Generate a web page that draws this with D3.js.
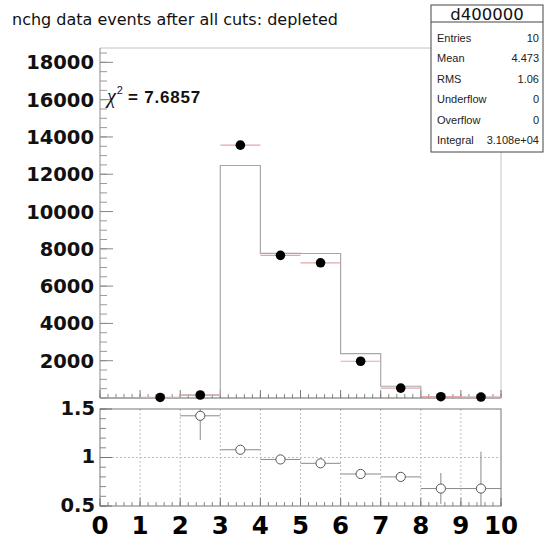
<!DOCTYPE html>
<html>
<head>
<meta charset="utf-8">
<script src="https://cdn.jsdelivr.net/npm/d3@7"></script>
<style>
  html, body { margin: 0; padding: 0; background: #fff; }
  svg { display: block; }
</style>
</head>
<body>
<svg id="chart" width="545" height="544"></svg>
<script>
// ---------------- data ----------------
const binEdges = [0, 1, 2, 3, 4, 5, 6, 7, 8, 9, 10];
const binCenters = [0.5, 1.5, 2.5, 3.5, 4.5, 5.5, 6.5, 7.5, 8.5, 9.5];
const dataValues = [null, 30, 160, 13560, 7650, 7250, 1970, 530, 70, 50];
const mcValues = [0, 0, 150, 12470, 7760, 7750, 2380, 630, 80, 30];
const ratioValues = [null, null, 1.43, 1.08, 0.98, 0.94, 0.83, 0.80, 0.68, 0.68];
const ratioErrors = [null, null, 0.25, 0.01, 0.01, 0.01, 0.02, 0.04, 0.16, 0.38];
const yTickValues = [2000, 4000, 6000, 8000, 10000, 12000, 14000, 16000, 18000];
const ratioTickValues = [0.5, 1, 1.5];
const xTickLabels = ["0", "1", "2", "3", "4", "5", "6", "7", "8", "9", "10"];
const titleText = "nchg data events after all cuts: depleted";
const chi2Text = "= 7.6857";
const statsTitle = "d400000";
const statsLabels = ["Entries", "Mean", "RMS", "Underflow", "Overflow", "Integral"];
const statsValues = ["10", "4.473", "1.06", "0", "0", "3.108e+04"];

// ---------------- layout ----------------
const svg = d3.select("#chart");
const X0 = 100, X1 = 501;
const TOPP = { top: 48, bottom: 398 };
const RAT = { top: 409, bottom: 506 };
const yMax = 18770;

const x = d3.scaleLinear().domain([0, 10]).range([X0, X1]);
const y = d3.scaleLinear().domain([0, yMax]).range([TOPP.bottom, TOPP.top]);
const yr = d3.scaleLinear().domain([0.5, 1.5]).range([RAT.bottom, RAT.top]);

svg.append("rect").attr("width", 545).attr("height", 544).attr("fill", "#fff");

// title
svg.append("text").attr("x", 12).attr("y", 25)
  .attr("font-family", "DejaVu Sans").attr("font-size", 16).attr("fill", "#111")
  .text(titleText);

// ---------------- top panel ----------------
const topG = svg.append("g");
topG.append("line").attr("x1", X0).attr("x2", X1).attr("y1", TOPP.top).attr("y2", TOPP.top).attr("stroke", "#c4c4c4");
topG.append("line").attr("x1", X1).attr("x2", X1).attr("y1", TOPP.top).attr("y2", TOPP.bottom).attr("stroke", "#c4c4c4");

const yMinor = d3.range(0, yMax, 500);
topG.selectAll("line.ymin").data(yMinor).join("line")
  .attr("x1", X0).attr("x2", X0 + 7).attr("y1", d => y(d)).attr("y2", d => y(d))
  .attr("stroke", "#999");
topG.selectAll("line.ymaj").data(yTickValues).join("line")
  .attr("x1", X0).attr("x2", X0 + 13).attr("y1", d => y(d)).attr("y2", d => y(d))
  .attr("stroke", "#888");
const xMinor = x.ticks(50);
topG.selectAll("line.xmin").data(xMinor).join("line")
  .attr("x1", d => x(d)).attr("x2", d => x(d)).attr("y1", TOPP.bottom).attr("y2", TOPP.bottom - 4)
  .attr("stroke", "#888");
topG.selectAll("line.xmaj").data(binEdges).join("line")
  .attr("x1", d => x(d)).attr("x2", d => x(d)).attr("y1", TOPP.bottom).attr("y2", TOPP.bottom - 8)
  .attr("stroke", "#777");
topG.append("line").attr("x1", X0).attr("x2", X0).attr("y1", TOPP.top).attr("y2", TOPP.bottom).attr("stroke", "#888");
topG.append("line").attr("x1", X0).attr("x2", X1).attr("y1", TOPP.bottom).attr("y2", TOPP.bottom).attr("stroke", "#666");

topG.selectAll("text.yl").data(yTickValues).join("text")
  .attr("x", 94).attr("y", d => y(d)).attr("dy", "0.36em")
  .attr("text-anchor", "end")
  .attr("font-family", "DejaVu Sans").attr("font-weight", "bold").attr("font-size", 19.5)
  .attr("fill", "#111").text(d => d);

// histogram (MC) step outline
const histPts = [[0, 0]];
mcValues.forEach((v, i) => { histPts.push([binEdges[i], v]); histPts.push([binEdges[i + 1], v]); });
histPts.push([10, 0]);
topG.append("path")
  .attr("d", d3.line().x(d => x(d[0])).y(d => y(d[1]))(histPts))
  .attr("fill", "none").attr("stroke", "#a8a8a8").attr("stroke-width", 1.2);

// data points
const dataPts = binCenters.map((c, i) => ({ c, v: dataValues[i], i })).filter(d => d.v !== null);
topG.selectAll("line.dx").data(dataPts).join("line")
  .attr("x1", d => x(binEdges[d.i])).attr("x2", d => x(binEdges[d.i + 1]))
  .attr("y1", d => y(d.v)).attr("y2", d => y(d.v))
  .attr("stroke", "#e2a8a8").attr("stroke-width", 1.2);
topG.selectAll("circle.dp").data(dataPts).join("circle")
  .attr("cx", d => x(d.c)).attr("cy", d => y(d.v)).attr("r", 4.8).attr("fill", "#000");

// chi2 text
const chi = svg.append("text").attr("x", 107).attr("y", 103).attr("fill", "#111");
chi.append("tspan").attr("font-family", "Liberation Serif").attr("font-style", "italic")
  .attr("font-size", 20).text("χ");
chi.append("tspan").attr("font-family", "Liberation Sans").attr("font-size", 11)
  .attr("dy", -9).attr("dx", 1).text("2");
chi.append("tspan").attr("font-family", "Liberation Sans").attr("font-weight", "bold")
  .attr("font-size", 17).attr("letter-spacing", 0.8).attr("dy", 9).attr("dx", 5).text(chi2Text);

// ---------------- ratio panel ----------------
const rat = svg.append("g");
rat.selectAll("line.gx").data(binEdges.slice(1, 10)).join("line")
  .attr("x1", d => x(d)).attr("x2", d => x(d)).attr("y1", RAT.top).attr("y2", RAT.bottom)
  .attr("stroke", "#bdbdbd").attr("stroke-dasharray", "2,2");
rat.append("line").attr("x1", X0).attr("x2", X1).attr("y1", yr(1)).attr("y2", yr(1))
  .attr("stroke", "#bdbdbd").attr("stroke-dasharray", "2,2");
const rMinor = d3.range(0.5, 1.5001, 0.1);
rat.selectAll("line.rmin").data(rMinor).join("line")
  .attr("x1", X0).attr("x2", X0 + 6).attr("y1", d => yr(d)).attr("y2", d => yr(d)).attr("stroke", "#888");
rat.selectAll("line.rmaj").data(ratioTickValues).join("line")
  .attr("x1", X0).attr("x2", X0 + 12).attr("y1", d => yr(d)).attr("y2", d => yr(d)).attr("stroke", "#777");
rat.selectAll("line.rxmin").data(xMinor).join("line")
  .attr("x1", d => x(d)).attr("x2", d => x(d)).attr("y1", RAT.bottom).attr("y2", RAT.bottom - 4).attr("stroke", "#888");
rat.selectAll("line.rxmaj").data(binEdges).join("line")
  .attr("x1", d => x(d)).attr("x2", d => x(d)).attr("y1", RAT.bottom).attr("y2", RAT.bottom - 8).attr("stroke", "#777");
rat.append("rect").attr("x", X0).attr("y", RAT.top).attr("width", X1 - X0).attr("height", RAT.bottom - RAT.top)
  .attr("fill", "none").attr("stroke", "#777");

rat.selectAll("text.rl").data(ratioTickValues).join("text")
  .attr("x", 95).attr("y", d => yr(d)).attr("dy", "0.3em")
  .attr("text-anchor", "end")
  .attr("font-family", "DejaVu Sans").attr("font-weight", "bold").attr("font-size", 19.5)
  .attr("fill", "#111").text(d => d);

rat.selectAll("text.xl").data(xTickLabels).join("text")
  .attr("x", d => x(+d)).attr("y", 534)
  .attr("text-anchor", "middle")
  .attr("font-family", "DejaVu Sans").attr("font-weight", "bold").attr("font-size", 24.5)
  .attr("fill", "#000").text(d => d);

const clip = v => Math.max(0.5, Math.min(1.5, v));
const ratioPts = binCenters.map((c, i) => ({ c, v: ratioValues[i], e: ratioErrors[i], i })).filter(d => d.v !== null);
rat.selectAll("line.rex").data(ratioPts).join("line")
  .attr("x1", d => x(binEdges[d.i])).attr("x2", d => x(binEdges[d.i + 1]))
  .attr("y1", d => yr(d.v)).attr("y2", d => yr(d.v))
  .attr("stroke", "#8a8a8a").attr("stroke-width", 1);
rat.selectAll("line.rey").data(ratioPts).join("line")
  .attr("x1", d => x(d.c)).attr("x2", d => x(d.c))
  .attr("y1", d => yr(clip(d.v - d.e))).attr("y2", d => yr(clip(d.v + d.e)))
  .attr("stroke", "#8a8a8a").attr("stroke-width", 1);
rat.selectAll("circle.rp").data(ratioPts).join("circle")
  .attr("cx", d => x(d.c)).attr("cy", d => yr(d.v)).attr("r", 4.6)
  .attr("fill", "#fff").attr("stroke", "#555").attr("stroke-width", 1);

// ---------------- stats box ----------------
const sb = svg.append("g");
const SB = { x: 431, y: 5, w: 112, h: 147 };
sb.append("rect").attr("x", SB.x).attr("y", SB.y).attr("width", SB.w).attr("height", SB.h)
  .attr("fill", "#fff").attr("stroke", "#444");
sb.append("line").attr("x1", SB.x).attr("x2", SB.x + SB.w).attr("y1", 22).attr("y2", 22).attr("stroke", "#444");
sb.append("text").attr("x", SB.x + SB.w / 2).attr("y", 20).attr("text-anchor", "middle")
  .attr("font-family", "DejaVu Sans").attr("font-size", 16.5).attr("fill", "#111").text(statsTitle);
const rowY = d3.scaleLinear().domain([0, statsLabels.length - 1]).range([42, 144]);
sb.selectAll("text.sl").data(statsLabels).join("text")
  .attr("x", 437).attr("y", (d, i) => rowY(i))
  .attr("font-family", "Liberation Sans").attr("font-size", 11).attr("fill", "#222").text(d => d);
sb.selectAll("text.sv").data(statsValues).join("text")
  .attr("x", 539).attr("y", (d, i) => rowY(i)).attr("text-anchor", "end")
  .attr("font-family", "Liberation Sans").attr("font-size", 11).attr("fill", "#222").text(d => d);
</script>
</body>
</html>
